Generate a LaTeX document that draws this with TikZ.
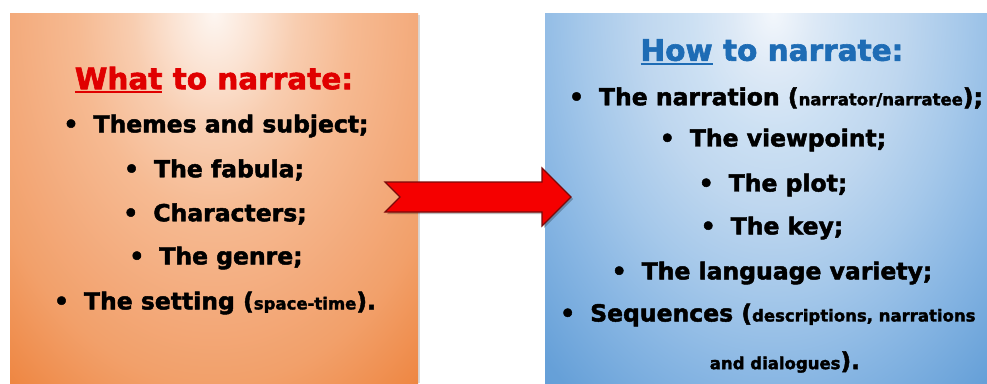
\documentclass[tikz,border=0pt]{standalone}
\usepackage{fontspec}
\setmainfont{DejaVu Sans}
\newfontfamily\heavy{DejaVu Sans Bold}[FakeBold=2]
\definecolor{titlered}{HTML}{E00000}
\definecolor{titleblue}{HTML}{1E6CB5}
\definecolor{arrowred}{HTML}{F50000}
\definecolor{arrowedge}{HTML}{7A0A0A}
\definecolor{o0}{HTML}{FDF6F1}
\definecolor{o1}{HTML}{FBE3D3}
\definecolor{o2}{HTML}{F8CDB0}
\definecolor{o3}{HTML}{F6BA92}
\definecolor{o4}{HTML}{F3AA7B}
\definecolor{o5}{HTML}{F2A06A}
\definecolor{o6}{HTML}{EE8540}
\definecolor{o7}{HTML}{EC7D35}
\definecolor{b0}{HTML}{F3F7FC}
\definecolor{b1}{HTML}{DDE9F6}
\definecolor{b2}{HTML}{CCE0F3}
\definecolor{b3}{HTML}{BFD7EF}
\definecolor{b4}{HTML}{A5C8EA}
\definecolor{b5}{HTML}{88B6E3}
\definecolor{b6}{HTML}{66A0D8}
\definecolor{b7}{HTML}{5B9AD5}
\pgfdeclareradialshading{orangeglow}{\pgfpointorigin}{%
  color(0bp)=(o0); color(60bp)=(o1); color(120bp)=(o2); color(200bp)=(o3);
  color(300bp)=(o4); color(370bp)=(o5); color(480bp)=(o6); color(600bp)=(o7)}
\pgfdeclareradialshading{blueglow}{\pgfpointorigin}{%
  color(0bp)=(b0); color(60bp)=(b1); color(120bp)=(b2); color(190bp)=(b3);
  color(280bp)=(b4); color(370bp)=(b5); color(480bp)=(b6); color(600bp)=(b7)}
\newcommand\ulword[1]{\setbox0\hbox{#1}\rlap{\rule[-4pt]{\wd0}{2.2pt}}\box0\relax}
\tikzset{
  line/.style={inner sep=0pt, font=\fontsize{23.5}{26}\heavy, text=black},
  title/.style={inner sep=0pt, font=\fontsize{29.5}{31}\heavy},
  glow/.style={inner sep=0pt, outer sep=0pt, transform shape},
}
\newcommand\sm[1]{{\fontsize{16.5}{18}\selectfont #1}}
\newcommand\bu{•\hspace{15pt}}
\begin{document}
\begin{tikzpicture}[x=1pt,y=-1pt]
\useasboundingbox (0,0) rectangle (987,383);
% left panel
\fill[black!15] (12,15) rectangle (420,383);
\begin{scope}
\clip (10,13) rectangle (418,383);
\begin{scope}[shift={(214,13)}, xscale=0.68]
\node[glow] (og) at (0,0) {\pgfuseshading{orangeglow}};
\end{scope}
\end{scope}
% right panel
\begin{scope}
\clip (545,13) rectangle (987,383);
\begin{scope}[shift={(773,13)}, xscale=0.68]
\node[glow] (bg) at (0,0) {\pgfuseshading{blueglow}};
\end{scope}
\end{scope}
% arrow
\fill[black, opacity=0.25] (387,184) -- (402,199) -- (387,214) -- (544,214) -- (544,228) -- (573,199) -- (544,170) -- (544,184) -- cycle;
\draw[fill=arrowred, draw=arrowedge, line width=1.2pt, line join=miter]
  (385,182) -- (400,197) -- (385,212) -- (542,212) -- (542,226) -- (571,197) -- (542,168) -- (542,182) -- cycle;
% left texts
\node[title, text=titlered] (lt) at (214,80) {\ulword{What} to narrate:};
\node[line] (l1) at (216,126) {\bu Themes and subject;};
\node[line] (l2) at (214,170) {\bu The fabula;};
\node[line] (l3) at (215,214) {\bu Characters;};
\node[line] (l4) at (216,258) {\bu The genre;};
\node[line] (l5) at (215,303) {\bu The setting (\sm{space-time}).};
% right texts
\node[title, text=titleblue] (rt) at (772,52) {\ulword{How} to narrate:};
\node[line] (r1) at (776,98) {\bu The narration (\sm{narrator/narratee});};
\node[line] (r2) at (773,140) {\bu The viewpoint;};
\node[line] (r3) at (773,185) {\bu The plot;};
\node[line] (r4) at (772,228) {\bu The key;};
\node[line] (r5) at (772,273) {\bu The language variety;};
\node[line, anchor=west] (r6) at (560,315) {\bu Sequences (\sm{descriptions, narrations}};
\node[line] (r7) at (785,362) {\sm{and dialogues}).};
\end{tikzpicture}
\end{document}
